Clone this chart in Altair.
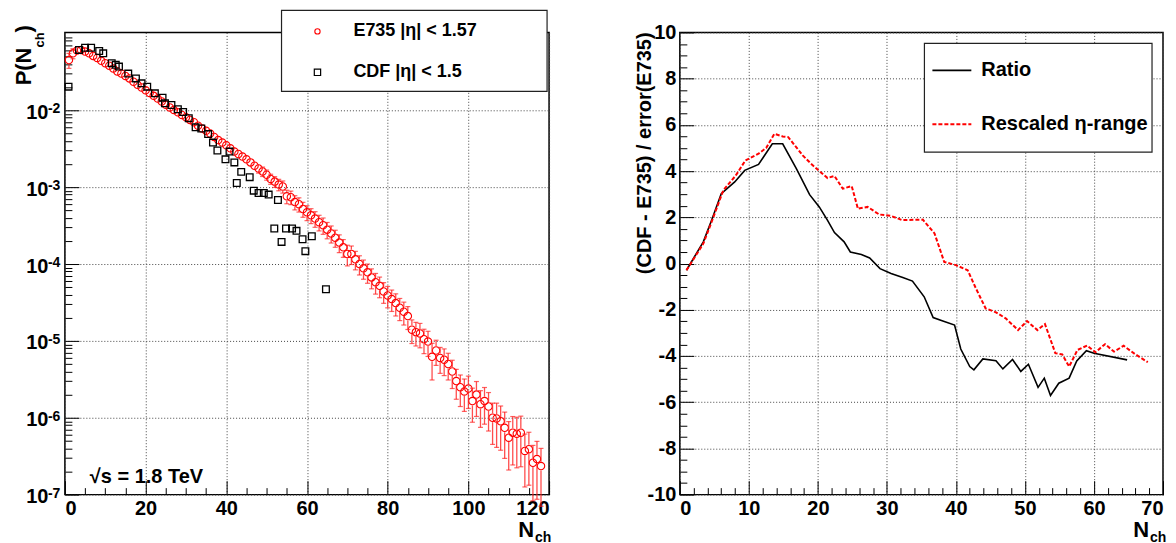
import altair as alt
import pandas as pd

FONT = "Liberation Sans"

# ---------------- data ----------------
e735_n = list(range(1, 119))
e735_p = [
    0.045, 0.055, 0.060, 0.061, 0.058, 0.055, 0.051, 0.048, 0.044, 0.041,
    0.038, 0.035, 0.032, 0.030, 0.028, 0.026, 0.0235, 0.0215, 0.0198, 0.0182,
    0.0168, 0.0154, 0.0142, 0.0130, 0.0118, 0.0109, 0.0101, 0.0094, 0.0087, 0.0081,
    0.0075, 0.0070, 0.0063, 0.0058, 0.0054, 0.0050, 0.0045, 0.0041, 0.0038, 0.0035,
    0.0032, 0.0029, 0.0027, 0.0025, 0.0023, 0.0021, 0.0019, 0.00175, 0.0016, 0.00145,
    0.00128, 0.00118, 0.00108, 0.00102, 0.00076, 0.00074, 0.00064, 0.00060, 0.00052, 0.00047,
    0.00043, 0.00039, 0.00035, 0.00032, 0.00028, 0.00025, 0.00022, 0.00019, 0.000165, 0.000135,
    0.000135, 0.000115, 0.000100, 0.000088, 0.000078, 0.000067, 0.000058, 0.000052, 0.000044, 0.000039,
    0.000035, 0.000031, 0.000027, 0.000024, 0.000021, 0.0000140, 0.0000130, 0.0000125, 0.0000105, 0.0000098,
    0.0000062, 0.0000075, 0.0000060, 0.0000057, 0.0000050, 0.0000040, 0.0000030, 0.0000025, 0.0000022, 0.0000024,
    0.00000165, 0.0000020, 0.0000015, 0.00000165, 0.0000014, 0.0000010, 0.00000098, 0.00000090, 0.00000074, 0.00000055,
    0.00000064, 0.00000062, 0.00000064, 0.00000037, 0.00000039, 0.00000026, 0.00000029, 0.000000235,
]
e735_rel_err = [
    0.22, 0.15, 0.10, 0.06, 0.05, 0.05, 0.05, 0.05, 0.05, 0.05,
    0.05, 0.05, 0.05, 0.05, 0.05, 0.05, 0.05, 0.05, 0.05, 0.05,
    0.05, 0.05, 0.05, 0.05, 0.05, 0.05, 0.05, 0.05, 0.05, 0.05,
    0.05, 0.05, 0.05, 0.05, 0.05, 0.06, 0.06, 0.07, 0.07, 0.08,
    0.09, 0.10, 0.10, 0.11, 0.11, 0.12, 0.12, 0.13, 0.14, 0.15,
    0.15, 0.16, 0.17, 0.18, 0.20, 0.20, 0.21, 0.21, 0.22, 0.22,
    0.22, 0.23, 0.23, 0.24, 0.24, 0.25, 0.25, 0.26, 0.26, 0.30,
    0.27, 0.27, 0.28, 0.28, 0.28, 0.29, 0.30, 0.30, 0.30, 0.31,
    0.31, 0.32, 0.32, 0.33, 0.33, 0.34, 0.34, 0.35, 0.35, 0.36,
    0.50, 0.36, 0.37, 0.38, 0.38, 0.40, 0.42, 0.44, 0.45, 0.45,
    0.47, 0.48, 0.50, 0.50, 0.52, 0.55, 0.58, 0.58, 0.60, 0.62,
    0.62, 0.64, 0.64, 0.66, 0.66, 0.68, 0.70, 0.70,
]

cdf_n = [0.9, 3.5, 5.0, 6.5, 8.5, 9.5, 11.6, 12.6, 13.4, 15.7, 17.6, 19.0, 20.4, 22.3, 24.2,
         24.8, 26.4, 28.0, 29.3, 30.7, 32.4, 33.8, 35.5, 36.7, 37.8, 39.8, 40.8, 42.0, 42.6,
         43.7, 45.8, 46.8, 48.0, 49.3, 50.5, 51.9, 52.8, 53.7, 54.8, 56.3, 57.4, 58.9, 59.6,
         61.2, 64.7]
cdf_p = [0.0203, 0.061, 0.065, 0.065, 0.059, 0.055, 0.041, 0.039, 0.037, 0.030, 0.026, 0.0224,
         0.0203, 0.0166, 0.0146, 0.0123, 0.0117, 0.0103, 0.0095, 0.0079, 0.0060, 0.0058, 0.0049,
         0.0038, 0.0030, 0.0023, 0.0029, 0.0021, 0.00113, 0.00158, 0.00135, 0.00090, 0.00084,
         0.00084, 0.00080, 0.00029, 0.00068, 0.000194, 0.00029, 0.00029, 0.00027, 0.00021,
         0.000147, 0.00023, 0.000047]

ratio_n = [0.96, 3.4, 4.6, 6.0, 7.95, 9.4, 11.4, 13.4, 14.9, 16.9, 18.8, 20.2, 21.4, 22.4, 23.8,
           24.7, 26.3, 27.5, 29.0, 30.6, 32.3, 33.7, 35.4, 36.7, 38.1, 39.8, 40.7, 42.0, 42.6,
           43.9, 45.8, 46.8, 48.2, 49.4, 50.5, 51.9, 52.8, 53.7, 54.9, 56.4, 57.5, 58.9, 60.0, 64.8]
ratio_v = [-0.29, 0.94, 1.87, 3.02, 3.53, 4.03, 4.29, 5.18, 5.18, 4.10, 2.98, 2.45, 1.87, 1.34, 0.94,
           0.50, 0.39, 0.24, -0.22, -0.43, -0.61, -0.76, -1.44, -2.34, -2.49, -2.66, -3.70, -4.46, -4.60,
           -4.13, -4.21, -4.56, -4.15, -4.67, -4.36, -5.36, -4.96, -5.71, -5.18, -4.96, -4.22, -3.77, -3.88, -4.17]

rescaled_n = [0.96, 3.4, 4.6, 6.3, 8.1, 9.5, 11.4, 12.5, 13.7, 14.9, 15.7, 17.8, 19.0, 20.1, 21.4,
              22.4, 23.6, 24.9, 25.8, 27.2, 28.9, 30.5, 32.2, 35.2, 36.9, 38.3, 40.0, 41.7, 42.9,
              44.3, 45.8, 47.2, 49.0, 50.3, 51.8, 52.9, 54.4, 55.4, 56.4, 57.6, 59.0, 60.2, 61.6,
              62.9, 64.3, 66.0, 67.8]
rescaled_v = [-0.29, 0.86, 1.80, 3.17, 3.81, 4.46, 4.75, 5.00, 5.61, 5.50, 5.47, 4.68, 4.32, 4.03, 3.70,
              3.79, 3.24, 3.35, 2.37, 2.45, 2.12, 2.07, 1.88, 1.90, 1.30, 0.07, -0.07, -0.29, -1.08,
              -1.94, -2.11, -2.37, -2.88, -2.49, -2.88, -2.62, -3.88, -3.93, -4.46, -3.74, -3.55, -3.84, -3.49,
              -3.81, -3.56, -3.93, -4.27]

left_x_labels = [0, 20, 40, 60, 80, 100, 120]
left_y_decades = [1e-7, 1e-6, 1e-5, 1e-4, 1e-3, 1e-2]
left_y_exponents = ["-7", "-6", "-5", "-4", "-3", "-2"]
right_x_labels = [0, 10, 20, 30, 40, 50, 60, 70]
right_y_labels = [-10, -8, -6, -4, -2, 0, 2, 4, 6, 8, 10]

# tick positions (minor + major)
left_x_ticks = list(range(0, 121, 5))
left_y_ticks = [k * d for d in left_y_decades for k in range(1, 10)]
right_x_ticks = list(range(0, 71, 2))
right_y_ticks = [i * 0.5 for i in range(-20, 21)]

W1, W2, H = 485, 484, 463
one = pd.DataFrame({"k": [0]})


def label_axis(values, **kw):
    return alt.Axis(values=values, grid=True, gridDash=[1, 2], gridColor="#444", gridWidth=1,
                    ticks=False, domain=False, labelFont=FONT, labelFontSize=20,
                    labelFontWeight="bold", labelColor="black", labelOverlap=False,
                    title=None, **kw)


def tick_axis(orient, offset, values, test):
    return alt.Axis(orient=orient, offset=offset, values=values, labels=False, domain=False,
                    grid=False, title=None, ticks=True, tickColor="black", tickWidth=1,
                    tickSize={"condition": {"test": test, "value": 14}, "value": 7})


def txt(text, x, y, size=20, align="left", baseline="alphabetic", angle=0, color="black"):
    return alt.Chart(one).mark_text(text=text, font=FONT, fontSize=size, fontWeight="bold",
                                    align=align, baseline=baseline, angle=angle,
                                    color=color).encode(x=alt.value(x), y=alt.value(y))


# ---------------- left panel ----------------
xs1 = alt.Scale(domain=[0, 120], nice=False, zero=False)
ys1 = alt.Scale(type="log", domain=[1e-7, 0.103], nice=False)

e_df = pd.DataFrame({"N": e735_n, "P": e735_p, "r": e735_rel_err})
e_df["lo"] = e_df.P * (1 - e_df.r)
e_df["hi"] = e_df.P * (1 + e_df.r)
gap = 1.14
up = e_df[e_df.hi > e_df.P * gap].copy()
up["a"] = up.P * gap
dn = e_df[e_df.lo < e_df.P / gap].copy()
dn["a"] = dn.P / gap

cdf_df = pd.DataFrame({"N": cdf_n, "P": cdf_p})

bar_up = alt.Chart(up).mark_rule(color="#ff2020", strokeWidth=1.3, opacity=0.8).encode(
    x=alt.X("N:Q", scale=xs1, axis=None), y=alt.Y("a:Q", scale=ys1, axis=None), y2="hi:Q")
bar_dn = alt.Chart(dn).mark_rule(color="#ff2020", strokeWidth=1.3, opacity=0.8).encode(
    x=alt.X("N:Q", scale=xs1, axis=None), y=alt.Y("lo:Q", scale=ys1, axis=None), y2="a:Q")
cap_up = alt.Chart(up).mark_tick(orient="horizontal", size=5, thickness=1.2, color="#ff2020").encode(
    x=alt.X("N:Q", scale=xs1, axis=None), y=alt.Y("hi:Q", scale=ys1, axis=None))
cap_dn = alt.Chart(dn).mark_tick(orient="horizontal", size=5, thickness=1.2, color="#ff2020").encode(
    x=alt.X("N:Q", scale=xs1, axis=None), y=alt.Y("lo:Q", scale=ys1, axis=None))

circles = alt.Chart(e_df).mark_point(shape="circle", filled=False, color="red", size=55,
                                     strokeWidth=1.1, opacity=1).encode(
    x=alt.X("N:Q", scale=xs1, axis=label_axis(left_x_labels, labelExpr="''+datum.value", labelPadding=4)),
    y=alt.Y("P:Q", scale=ys1, axis=label_axis(left_y_decades, labelExpr="'10'", labelPadding=17,
                                              labelOffset=2)))

squares = alt.Chart(cdf_df).mark_point(shape="square", filled=False, color="black", size=45,
                                       strokeWidth=1.3, opacity=1).encode(
    x=alt.X("N:Q", scale=xs1, axis=tick_axis("top", -H, left_x_ticks, "datum.value % 20 == 0")),
    y=alt.Y("P:Q", scale=ys1, axis=tick_axis(
        "right", -W1, left_y_ticks,
        "abs(log(datum.value)/LN10 - round(log(datum.value)/LN10)) < 0.01")))

exps = alt.Chart(pd.DataFrame({"v": left_y_decades, "e": left_y_exponents})).mark_text(
    font=FONT, fontSize=14, fontWeight="bold", align="left", baseline="alphabetic", dy=3,
    color="black").encode(x=alt.value(-17), y=alt.Y("v:Q", scale=ys1, axis=None), text="e:N")

leg1_box = alt.Chart(one).mark_rect(fill="white", stroke="#222", strokeWidth=1.2).encode(
    x=alt.value(217), x2=alt.value(483), y=alt.value(-22), y2=alt.value(59))
leg1_c = alt.Chart(one).mark_point(shape="circle", filled=False, color="red", size=28,
                                   strokeWidth=1.1, opacity=1).encode(x=alt.value(253), y=alt.value(-1))
leg1_s = alt.Chart(one).mark_point(shape="square", filled=False, color="black", size=40,
                                   strokeWidth=1.2, opacity=1).encode(x=alt.value(253), y=alt.value(40))

left = alt.layer(
    circles, squares, bar_up, bar_dn, cap_up, cap_dn, exps,
    leg1_box, leg1_c, leg1_s,
    txt("E735 |η| < 1.57", 289, -1, size=18, baseline="middle"),
    txt("CDF |η| < 1.5", 289, 40, size=18, baseline="middle"),
    txt("√s = 1.8 TeV", 25, 451, size=20),
    txt("P(N", -34, 53, size=22, angle=270),
    txt("ch", -21, 15, size=13, angle=270),
    txt(")", -34, 0, size=22, angle=270),
    txt("N", 470, 505, size=22, align="right"),
    txt("ch", 471, 510, size=14),
).resolve_axis(x="independent", y="independent").properties(width=W1, height=H)

# ---------------- right panel ----------------
xs2 = alt.Scale(domain=[0, 70], nice=False, zero=False)
ys2 = alt.Scale(domain=[-10, 10], nice=False, zero=False)

ratio_df = pd.DataFrame({"N": ratio_n, "v": ratio_v})
resc_df = pd.DataFrame({"N": rescaled_n, "v": rescaled_v})

ratio_line = alt.Chart(ratio_df).mark_line(color="black", strokeWidth=1.6).encode(
    x=alt.X("N:Q", scale=xs2, axis=label_axis(right_x_labels, labelExpr="''+datum.value", labelPadding=4)),
    y=alt.Y("v:Q", scale=ys2, axis=label_axis(right_y_labels, labelExpr="''+datum.value", labelPadding=4)))

resc_line = alt.Chart(resc_df).mark_line(color="red", strokeWidth=2, strokeDash=[4, 2]).encode(
    x=alt.X("N:Q", scale=xs2, axis=tick_axis("top", -H, right_x_ticks, "datum.value % 10 == 0")),
    y=alt.Y("v:Q", scale=ys2, axis=tick_axis("right", -W2, right_y_ticks, "abs(datum.value % 2) < 0.001")))

leg2_box = alt.Chart(one).mark_rect(fill="white", stroke="#222", strokeWidth=1.2).encode(
    x=alt.value(245), x2=alt.value(473), y=alt.value(11), y2=alt.value(120))
leg2_l1 = alt.Chart(one).mark_rule(color="black", strokeWidth=1.6).encode(
    x=alt.value(253), x2=alt.value(292), y=alt.value(38))
leg2_l2 = alt.Chart(one).mark_rule(color="red", strokeWidth=2, strokeDash=[4, 2]).encode(
    x=alt.value(253), x2=alt.value(292), y=alt.value(92))

right = alt.layer(
    ratio_line, resc_line, leg2_box, leg2_l1, leg2_l2,
    txt("Ratio", 302, 38, size=20, baseline="middle"),
    txt("Rescaled η-range", 302, 92, size=20, baseline="middle"),
    txt("(CDF - E735) / error(E735)", -29, 0, size=20, angle=270, align="right"),
    txt("N", 470, 505, size=22, align="right"),
    txt("ch", 471, 510, size=14),
).resolve_axis(x="independent", y="independent").properties(width=W2, height=H)

chart = alt.hconcat(left, right, spacing=131, bounds="flush").properties(
    padding={"left": 4, "top": 0, "right": 0, "bottom": 0}
).configure_view(stroke="black", strokeWidth=1.5)

chart.save("out.html", embed_options={"renderer": "svg", "actions": False})
